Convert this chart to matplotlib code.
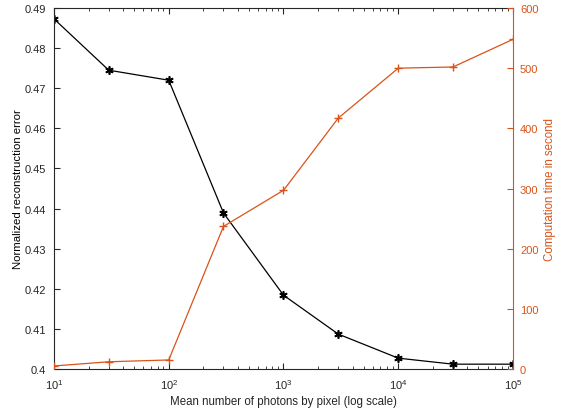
import numpy as np
import matplotlib
matplotlib.use('Agg')
from matplotlib import pyplot as plt
from matplotlib.ticker import LogLocator, NullFormatter

plt.rcParams['font.family'] = ['Liberation Sans', 'DejaVu Sans']

photons = [10, 30, 100, 300, 1000, 3000, 10000, 30000, 100000]
recon_error = [0.4873, 0.4745, 0.4720, 0.4389, 0.4184, 0.4087, 0.4027, 0.4012, 0.4012]
comp_time = [5, 12, 15, 237, 297, 417, 500, 502, 548]

orange = '#D95319'
grey = '#262626'

fig = plt.figure(figsize=(5.64, 4.10), dpi=100)
ax = fig.add_axes([0.0957, 0.0976, 0.8139, 0.8804])
ax2 = ax.twinx()

# asterisk markers for the error curve, plus signs for the timing curve
ax.plot(photons, recon_error, color='black', marker=(6, 2, 0), markersize=6,
        markeredgewidth=1.2, linewidth=0.9)
ax2.plot(photons, comp_time, color=orange, marker='+', markersize=6, linewidth=0.9)

ax.set_xscale('log')
ax.set_xlim(10, 1e5)
ax.set_ylim(0.4, 0.49)
ax.set_yticks(np.arange(0.40, 0.491, 0.01))
ax.set_yticklabels(['0.4', '0.41', '0.42', '0.43', '0.44', '0.45', '0.46', '0.47', '0.48', '0.49'])
ax.xaxis.set_minor_locator(LogLocator(base=10, subs=np.arange(2, 10)))
ax.xaxis.set_minor_formatter(NullFormatter())
ax2.set_ylim(0, 600)
ax2.set_yticks(range(0, 601, 100))

ax.tick_params(axis='both', which='both', direction='in', labelsize=8, colors=grey, top=True)
ax.tick_params(which='major', length=4, pad=6)
ax.tick_params(which='minor', length=2)
ax2.tick_params(axis='y', direction='in', labelsize=8, colors=orange, length=4, pad=5)

for s in ['left', 'bottom', 'top']:
    ax.spines[s].set_color(grey)
    ax.spines[s].set_linewidth(0.8)
ax2.spines['right'].set_color(orange)
ax2.spines['right'].set_linewidth(0.8)
ax2.spines['left'].set_visible(False)
ax2.spines['top'].set_visible(False)
ax2.spines['bottom'].set_visible(False)
ax.spines['right'].set_visible(False)

ax.set_xlabel('Mean number of photons by pixel (log scale)', fontsize=8.3, color=grey, labelpad=3)
ax.set_ylabel('Normalized reconstruction error', fontsize=8.2, color='black', labelpad=1)
ax2.set_ylabel('Computation time in second', fontsize=8.3, color=orange, labelpad=4)

fig.savefig('out.png', dpi=100)
